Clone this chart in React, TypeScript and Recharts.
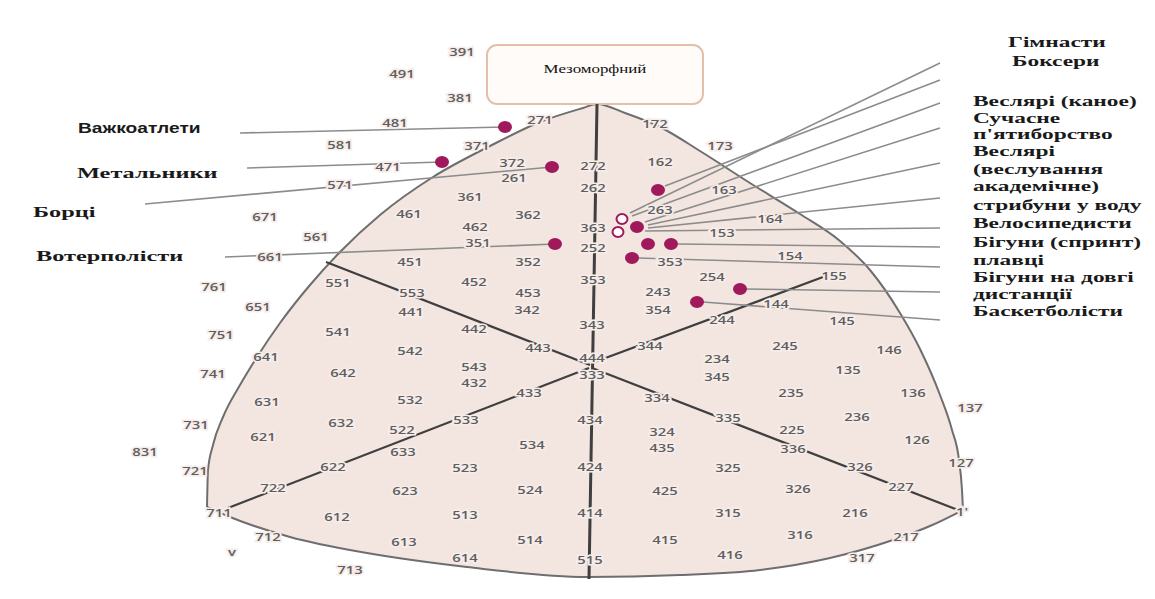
import React from "react";
import {
  ComposedChart,
  XAxis,
  YAxis,
  Area,
  Scatter,
  ReferenceLine,
  ReferenceArea,
} from "recharts";

// ---- outline of the somatochart (pixel-like data units) ----
const topEdge = [
  { x: 207, y: 507 }, { x: 208, y: 470 }, { x: 213, y: 445 }, { x: 223, y: 417 },
  { x: 240, y: 385 }, { x: 257, y: 357 }, { x: 280, y: 323 }, { x: 310, y: 285 },
  { x: 340, y: 252 }, { x: 380, y: 215 }, { x: 433, y: 177 }, { x: 490, y: 146 },
  { x: 540, y: 122 }, { x: 583, y: 108 }, { x: 597, y: 104 }, { x: 625, y: 113 },
  { x: 660, y: 127 }, { x: 700, y: 151 }, { x: 750, y: 183 }, { x: 800, y: 214 },
  { x: 840, y: 241 }, { x: 870, y: 270 }, { x: 900, y: 313 }, { x: 920, y: 349 },
  { x: 940, y: 395 }, { x: 952, y: 430 }, { x: 959, y: 460 }, { x: 962, y: 490 },
  { x: 963, y: 510 },
];
const bottomEdge = [
  { x: 207, y: 507 }, { x: 230, y: 517 }, { x: 290, y: 537 }, { x: 367, y: 553 },
  { x: 467, y: 567 }, { x: 587, y: 577 }, { x: 680, y: 575 }, { x: 760, y: 570 },
  { x: 830, y: 558 }, { x: 893, y: 540 }, { x: 930, y: 526 }, { x: 963, y: 510 },
];

// ---- axes of the chart (x1, y1, x2, y2) ----
const mainAxes = [
  [597, 104, 589, 579],
  [590, 365, 326, 262],
  [592, 363, 823, 277],
  [589, 368, 228, 508],
  [592, 368, 958, 510],
];

// ---- leader lines ----
const leftLeaders = [
  [240, 133, 505, 127],
  [247, 168, 442, 162],
  [145, 204, 552, 167],
  [225, 257, 555, 244],
];
const rightLeaders = [
  [630, 213, 940, 63],
  [665, 186, 940, 80],
  [632, 216, 940, 103],
  [645, 222, 940, 128],
  [648, 225, 940, 163],
  [648, 228, 940, 198],
  [645, 231, 940, 228],
  [678, 244, 940, 247],
  [638, 258, 940, 267],
  [745, 289, 940, 292],
  [703, 302, 940, 320],
];

// ---- sport group markers ----
const dotsFilled = [
  { x: 505, y: 127 }, { x: 442, y: 162 }, { x: 552, y: 167 }, { x: 555, y: 244 },
  { x: 658, y: 190 }, { x: 637, y: 227 }, { x: 648, y: 244 }, { x: 671, y: 244 },
  { x: 632, y: 258 }, { x: 740, y: 289 }, { x: 697, y: 302 },
];
const dotsOpen = [{ x: 622, y: 219 }, { x: 618, y: 232 }];

// ---- somatotype labels ----
const labelsTop = [
  { t: "391", x: 462, y: 52 }, { t: "491", x: 402, y: 74 }, { t: "381", x: 460, y: 98 },
  { t: "481", x: 395, y: 123 }, { t: "271", x: 540, y: 120 }, { t: "172", x: 655, y: 124 },
  { t: "173", x: 720, y: 146 }, { t: "581", x: 340, y: 145 }, { t: "371", x: 477, y: 146 },
  { t: "372", x: 512, y: 163 }, { t: "471", x: 388, y: 167 }, { t: "261", x: 514, y: 178 },
  { t: "272", x: 593, y: 166 }, { t: "162", x: 660, y: 162 }, { t: "571", x: 340, y: 185 },
  { t: "262", x: 593, y: 188 }, { t: "163", x: 724, y: 190 }, { t: "361", x: 470, y: 197 },
  { t: "671", x: 265, y: 217 }, { t: "461", x: 409, y: 214 }, { t: "362", x: 528, y: 215 },
  { t: "462", x: 475, y: 227 }, { t: "263", x: 660, y: 210 }, { t: "164", x: 770, y: 219 },
  { t: "363", x: 593, y: 228 }, { t: "561", x: 316, y: 237 }, { t: "351", x: 478, y: 243 },
  { t: "252", x: 593, y: 248 }, { t: "153", x: 722, y: 233 }, { t: "661", x: 270, y: 257 },
  { t: "451", x: 410, y: 262 }, { t: "352", x: 528, y: 262 }, { t: "353", x: 670, y: 262 },
  { t: "154", x: 790, y: 256 },
];
const labelsMiddle = [
  { t: "761", x: 214, y: 287 }, { t: "551", x: 338, y: 283 }, { t: "452", x: 474, y: 282 },
  { t: "553", x: 412, y: 293 }, { t: "453", x: 528, y: 293 }, { t: "353", x: 593, y: 280 },
  { t: "254", x: 712, y: 277 }, { t: "155", x: 834, y: 276 }, { t: "651", x: 258, y: 307 },
  { t: "441", x: 411, y: 312 }, { t: "342", x: 527, y: 310 }, { t: "243", x: 658, y: 292 },
  { t: "354", x: 658, y: 310 }, { t: "144", x: 776, y: 304 }, { t: "751", x: 221, y: 335 },
  { t: "541", x: 338, y: 332 }, { t: "442", x: 474, y: 329 }, { t: "343", x: 592, y: 325 },
  { t: "244", x: 722, y: 320 }, { t: "145", x: 842, y: 321 }, { t: "641", x: 266, y: 357 },
  { t: "542", x: 410, y: 351 }, { t: "443", x: 538, y: 348 }, { t: "344", x: 650, y: 346 },
  { t: "245", x: 785, y: 346 }, { t: "146", x: 889, y: 350 }, { t: "741", x: 213, y: 374 },
  { t: "642", x: 343, y: 373 }, { t: "543", x: 474, y: 367 }, { t: "432", x: 474, y: 383 },
  { t: "444", x: 592, y: 358 }, { t: "234", x: 717, y: 359 }, { t: "333", x: 592, y: 375 },
  { t: "345", x: 717, y: 377 }, { t: "135", x: 848, y: 370 }, { t: "631", x: 267, y: 402 },
  { t: "532", x: 410, y: 400 }, { t: "433", x: 529, y: 393 }, { t: "334", x: 657, y: 398 },
  { t: "235", x: 791, y: 393 }, { t: "136", x: 913, y: 393 }, { t: "137", x: 970, y: 408 },
];
const labelsBottom = [
  { t: "731", x: 196, y: 425 }, { t: "632", x: 341, y: 423 }, { t: "522", x: 402, y: 430 },
  { t: "533", x: 466, y: 420 }, { t: "434", x: 590, y: 420 }, { t: "335", x: 728, y: 418 },
  { t: "236", x: 857, y: 417 }, { t: "225", x: 792, y: 430 }, { t: "324", x: 662, y: 432 },
  { t: "126", x: 917, y: 440 }, { t: "621", x: 263, y: 437 }, { t: "831", x: 145, y: 452 },
  { t: "633", x: 403, y: 452 }, { t: "534", x: 532, y: 445 }, { t: "435", x: 662, y: 448 },
  { t: "336", x: 793, y: 449 }, { t: "721", x: 195, y: 471 }, { t: "622", x: 333, y: 467 },
  { t: "523", x: 465, y: 468 }, { t: "424", x: 590, y: 467 }, { t: "325", x: 728, y: 468 },
  { t: "326", x: 860, y: 467 }, { t: "127", x: 961, y: 463 }, { t: "722", x: 273, y: 488 },
  { t: "623", x: 405, y: 491 }, { t: "524", x: 530, y: 490 }, { t: "425", x: 665, y: 491 },
  { t: "326", x: 798, y: 489 }, { t: "227", x: 901, y: 487 }, { t: "711", x: 219, y: 513 },
  { t: "612", x: 337, y: 517 }, { t: "513", x: 465, y: 515 }, { t: "414", x: 590, y: 513 },
  { t: "315", x: 728, y: 513 }, { t: "216", x: 855, y: 513 }, { t: "1'", x: 962, y: 512 },
  { t: "712", x: 268, y: 537 }, { t: "613", x: 404, y: 542 }, { t: "514", x: 530, y: 540 },
  { t: "415", x: 665, y: 540 }, { t: "316", x: 800, y: 535 }, { t: "217", x: 906, y: 537 },
  { t: "v", x: 232, y: 552 }, { t: "614", x: 465, y: 558 }, { t: "713", x: 350, y: 570 },
  { t: "515", x: 590, y: 560 }, { t: "416", x: 730, y: 555 }, { t: "317", x: 862, y: 558 },
];

// ---- sport group names ----
const leftSansNames = [{ t: "Важкоатлети", x: 78, y: 128 }];
const leftSerifNames = [
  { t: "Метальники", x: 77, y: 173 },
  { t: "Борці", x: 33, y: 212 },
  { t: "Вотерполісти", x: 36, y: 256 },
];
const rightNames = [
  { t: "Гімнасти", x: 1008, y: 42 },
  { t: "Боксери", x: 1012, y: 61 },
  { t: "Веслярі (каное)", x: 973, y: 101 },
  { t: "Сучасне", x: 973, y: 118 },
  { t: "п'ятиборство", x: 973, y: 134 },
  { t: "Веслярі", x: 973, y: 151 },
  { t: "(веслування", x: 973, y: 169 },
  { t: "академічне)", x: 973, y: 186 },
  { t: "стрибуни у воду", x: 973, y: 205 },
  { t: "Велосипедисти", x: 973, y: 223 },
  { t: "Бігуни (спринт)", x: 973, y: 242 },
  { t: "плавці", x: 973, y: 260 },
  { t: "Бігуни на довгі", x: 973, y: 277 },
  { t: "дистанції", x: 973, y: 294 },
  { t: "Баскетболісти", x: 973, y: 311 },
];
const titleBox = { x1: 487, x2: 703, y1: 45, y2: 104 };
const titleText = [{ t: "Мезоморфний", x: 595, y: 69 }];

const W = 1155;
const H = 599;
const PINK = "#f3e6e1";
const MAGENTA = "#a0195b";

const NumLabel = (props: any) => {
  const { cx, cy, payload } = props;
  if (cx == null || cy == null) return <g />;
  return (
    <text
      transform={`translate(${cx},${cy}) scale(1.35,1)`}
      x={0}
      y={0}
      textAnchor="middle"
      dominantBaseline="central"
      fontFamily="'Open Sans', sans-serif"
      fontWeight={600}
      fontSize={11}
      fill="#5e5e5e"
      stroke="#f6ece9"
      strokeWidth={3}
      paintOrder="stroke"
    >
      {payload.t}
    </text>
  );
};

const makeName = (family: string, size: number, sx: number, weight: number) => (props: any) => {
  const { cx, cy, payload } = props;
  if (cx == null || cy == null) return <g />;
  return (
    <text
      transform={`translate(${cx},${cy}) scale(${sx},1)`}
      x={0}
      y={0}
      textAnchor="start"
      dominantBaseline="central"
      fontFamily={family}
      fontWeight={weight}
      fontSize={size}
      fill="#1a1a1a"
    >
      {payload.t}
    </text>
  );
};

const SansName = makeName("'Liberation Sans', Arial, sans-serif", 15, 1.28, 700);
const SerifName = makeName("'Liberation Serif', 'Times New Roman', serif", 15, 1.62, 700);
const RightName = makeName("'Liberation Serif', 'Times New Roman', serif", 15, 1.56, 700);

const TitleShape = (props: any) => {
  const { cx, cy, payload } = props;
  if (cx == null || cy == null) return <g />;
  return (
    <text
      transform={`translate(${cx},${cy}) scale(1.3,1)`}
      x={0}
      y={0}
      textAnchor="middle"
      dominantBaseline="central"
      fontFamily="'Liberation Serif', 'Times New Roman', serif"
      fontSize={13}
      fill="#111"
    >
      {payload.t}
    </text>
  );
};

const FilledDot = (props: any) => {
  const { cx, cy } = props;
  if (cx == null || cy == null) return <g />;
  return <ellipse cx={cx} cy={cy} rx={7} ry={6} fill={MAGENTA} />;
};
const OpenDot = (props: any) => {
  const { cx, cy } = props;
  if (cx == null || cy == null) return <g />;
  return <ellipse cx={cx} cy={cy} rx={5.5} ry={5} fill="#fff" stroke={MAGENTA} strokeWidth={2} />;
};

export default function App() {
  return (
    <div style={{ position: "absolute", left: 0, top: 0, width: W, height: H, background: "#fff" }}>
      <ComposedChart width={W} height={H} margin={{ top: 0, right: 0, bottom: 0, left: 0 }}>
        <XAxis dataKey="x" type="number" domain={[0, W]} hide allowDataOverflow />
        <YAxis dataKey="y" type="number" domain={[0, H]} reversed hide allowDataOverflow />

        <Area
          data={topEdge}
          dataKey="y"
          type="monotone"
          baseValue={H}
          fill={PINK}
          fillOpacity={1}
          stroke="#6e6e6e"
          strokeWidth={2}
          isAnimationActive={false}
          dot={false}
          activeDot={false}
        />
        <Area
          data={bottomEdge}
          dataKey="y"
          type="monotone"
          baseValue={H}
          fill="#ffffff"
          fillOpacity={1}
          stroke="#6e6e6e"
          strokeWidth={2}
          isAnimationActive={false}
          dot={false}
          activeDot={false}
        />

        {mainAxes.map((s, i) => (
          <ReferenceLine
            key={`ax${i}`}
            segment={[{ x: s[0], y: s[1] }, { x: s[2], y: s[3] }]}
            stroke="#3f3f3f"
            strokeWidth={i === 0 ? 3 : 2.2}
            ifOverflow="visible"
          />
        ))}
        {[...leftLeaders, ...rightLeaders].map((s, i) => (
          <ReferenceLine
            key={`ld${i}`}
            segment={[{ x: s[0], y: s[1] }, { x: s[2], y: s[3] }]}
            stroke="#8c8c8c"
            strokeWidth={1.6}
            ifOverflow="visible"
          />
        ))}

        <ReferenceArea
          x1={titleBox.x1}
          x2={titleBox.x2}
          y1={titleBox.y1}
          y2={titleBox.y2}
          fill="#fffbf9"
          fillOpacity={1}
          stroke="#e5c0a8"
          strokeWidth={2}
          radius={10}
          ifOverflow="visible"
        />

        <Scatter data={labelsTop} dataKey="y" shape={NumLabel} isAnimationActive={false} />
        <Scatter data={labelsMiddle} dataKey="y" shape={NumLabel} isAnimationActive={false} />
        <Scatter data={labelsBottom} dataKey="y" shape={NumLabel} isAnimationActive={false} />

        <Scatter data={dotsFilled} dataKey="y" shape={FilledDot} isAnimationActive={false} />
        <Scatter data={dotsOpen} dataKey="y" shape={OpenDot} isAnimationActive={false} />

        <Scatter data={leftSansNames} dataKey="y" shape={SansName} isAnimationActive={false} />
        <Scatter data={leftSerifNames} dataKey="y" shape={SerifName} isAnimationActive={false} />
        <Scatter data={rightNames} dataKey="y" shape={RightName} isAnimationActive={false} />
        <Scatter data={titleText} dataKey="y" shape={TitleShape} isAnimationActive={false} />
      </ComposedChart>
    </div>
  );
}
